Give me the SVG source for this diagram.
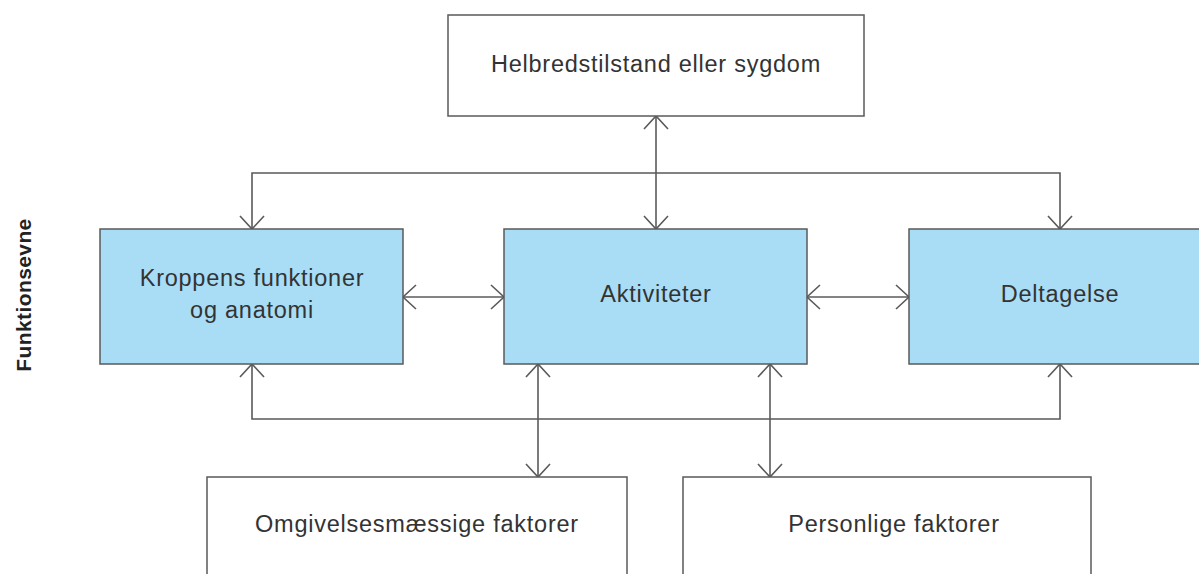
<svg xmlns="http://www.w3.org/2000/svg" width="1199" height="574" viewBox="0 0 1199 574">
<style>
.box{fill:#ffffff;stroke:#5a5a5a;stroke-width:1.5}
.blue{fill:#a9ddf6;stroke:#5a5a5a;stroke-width:1.5}
.lbl{font-family:"Liberation Sans",Arial,sans-serif;font-size:23.5px;letter-spacing:0.75px;fill:#333;text-anchor:middle}
.conn{fill:none;stroke:#5a5a5a;stroke-width:1.6}
.side{font-family:"Liberation Sans",Arial,sans-serif;font-size:21px;font-weight:bold;letter-spacing:0.4px;fill:#222;text-anchor:middle}
</style>
<defs>
<marker id="ah" markerUnits="userSpaceOnUse" viewBox="-15 -14 17 28" refX="0" refY="0" markerWidth="17" markerHeight="28" orient="auto-start-reverse" overflow="visible">
<path d="M-13,-12 L0,0 L-13,12" fill="none" stroke="#5a5a5a" stroke-width="1.6"/>
</marker>
</defs>
<rect width="1199" height="574" fill="#ffffff"/>
<text class="side" transform="translate(31,295) rotate(-90)">Funktionsevne</text>
<g id="connectors">
<path class="conn" d="M656,116 L656,229" marker-start="url(#ah)" marker-end="url(#ah)"/>
<path class="conn" d="M252,229 L252,173 L1060,173 L1060,229" marker-start="url(#ah)" marker-end="url(#ah)"/>
<path class="conn" d="M403,297 L504,297" marker-start="url(#ah)" marker-end="url(#ah)"/>
<path class="conn" d="M807,297 L909,297" marker-start="url(#ah)" marker-end="url(#ah)"/>
<path class="conn" d="M252,364 L252,419 L1060,419 L1060,364" marker-start="url(#ah)" marker-end="url(#ah)"/>
<path class="conn" d="M538,364 L538,477" marker-start="url(#ah)" marker-end="url(#ah)"/>
<path class="conn" d="M770,364 L770,477" marker-start="url(#ah)" marker-end="url(#ah)"/>
</g>
<g id="helbred">
<rect class="box" x="448" y="15" width="416" height="101"/>
<text class="lbl" x="656" y="72">Helbredstilstand eller sygdom</text>
</g>
<g id="kroppens">
<rect class="blue" x="100" y="229" width="303" height="135"/>
<text class="lbl" x="252" y="286">Kroppens funktioner</text>
<text class="lbl" x="252" y="318">og anatomi</text>
</g>
<g id="aktiviteter">
<rect class="blue" x="504" y="229" width="303" height="135"/>
<text class="lbl" x="656" y="302">Aktiviteter</text>
</g>
<g id="deltagelse">
<rect class="blue" x="909" y="229" width="300" height="135"/>
<text class="lbl" x="1060" y="302">Deltagelse</text>
</g>
<g id="omgivelser">
<rect class="box" x="207" y="477" width="420" height="110"/>
<text class="lbl" x="417" y="532">Omgivelsesmæssige faktorer</text>
</g>
<g id="personlige">
<rect class="box" x="683" y="477" width="408" height="110"/>
<text class="lbl" x="894" y="532">Personlige faktorer</text>
</g>
</svg>
